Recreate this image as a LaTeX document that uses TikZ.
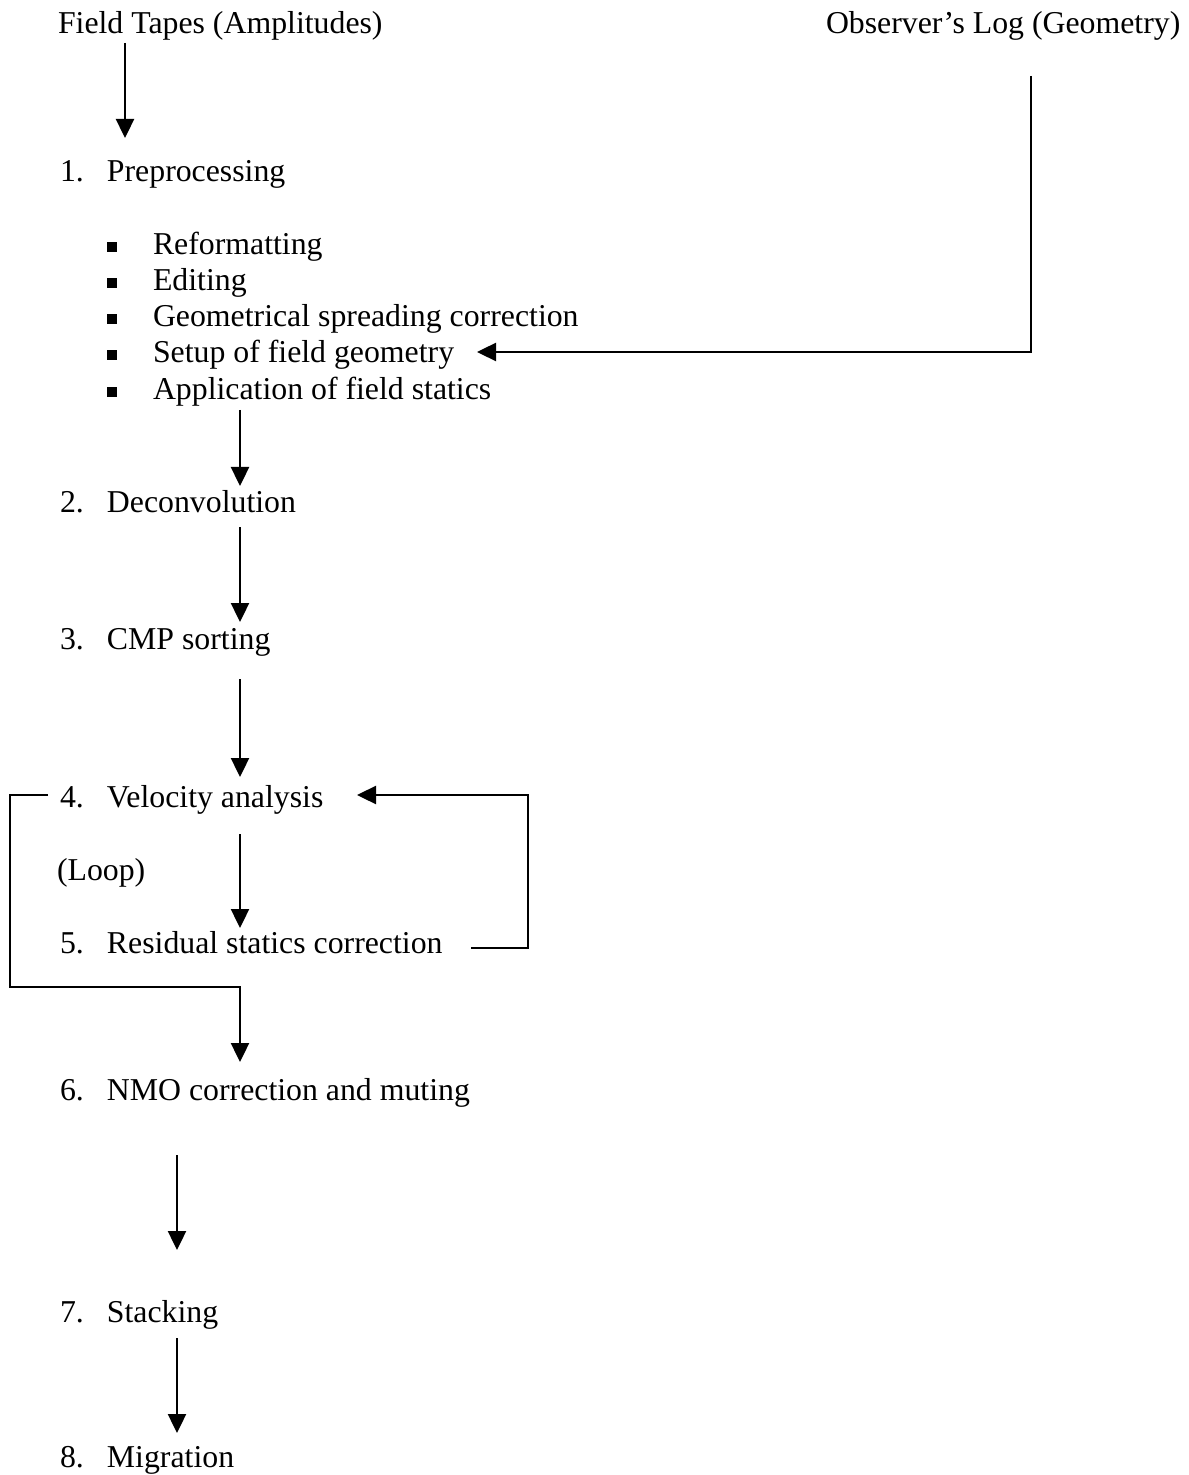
\documentclass[tikz,border=0pt]{standalone}
\usepackage{fontspec}
\setmainfont{Liberation Serif}
\usetikzlibrary{arrows.meta}
\begin{document}
\begin{tikzpicture}[x=0.5pt,y=-0.5pt,
  txt/.style={anchor=base west,inner sep=0pt,outer sep=0pt,font=\fontsize{15.9pt}{19pt}\selectfont},
  sqbullet/.style={fill=black,inner sep=0pt,minimum size=4.8pt,shape=rectangle},
  arr/.style={line width=1.2pt,-{Triangle[length=9.5pt,width=9pt]}}]
\useasboundingbox (0,0) rectangle (1188,1475);
\newcommand{\numlab}[2]{\makebox[23.5pt][l]{#1}#2}
% titles
\node[txt] (ft) at (58,34) {Field Tapes (Amplitudes)};
\node[txt] (ol) at (826,34) {Observer’s Log (Geometry)};
% steps
\node[txt] (s1) at (60,182) {\numlab{1.}{Preprocessing}};
\node[sqbullet] (b1) at (112,247) {};
\node[sqbullet] (b2) at (112,283) {};
\node[sqbullet] (b3) at (112,319) {};
\node[sqbullet] (b4) at (112,355) {};
\node[sqbullet] (b5) at (112,392) {};
\node[txt] (t1) at (153,255) {Reformatting};
\node[txt] (t2) at (153,291) {Editing};
\node[txt] (t3) at (153,327) {Geometrical spreading correction};
\node[txt] (t4) at (153,363) {Setup of field geometry};
\node[txt] (t5) at (153,400) {Application of field statics};
\node[txt] (s2) at (60,512) {\numlab{2.}{Deconvolution}};
\node[txt] (s3) at (60,649) {\numlab{3.}{CMP sorting}};
\node[txt] (s4) at (60,807) {\numlab{4.}{Velocity analysis}};
\node[txt] (lp) at (57,880) {(Loop)};
\node[txt] (s5) at (60,953) {\numlab{5.}{Residual statics correction}};
\node[txt] (s6) at (60,1100) {\numlab{6.}{NMO correction and muting}};
\node[txt] (s7) at (60,1322) {\numlab{7.}{Stacking}};
\node[txt] (s8) at (60,1467) {\numlab{8.}{Migration}};
% connector points
\coordinate (a0s) at (125,43);   \coordinate (a0e) at (125,138);
\coordinate (ols) at (1031,76);  \coordinate (olc) at (1031,352); \coordinate (ole) at (477,352);
\coordinate (a1s) at (240,410);  \coordinate (a1e) at (240,486);
\coordinate (a2s) at (240,527);  \coordinate (a2e) at (240,622);
\coordinate (a3s) at (240,679);  \coordinate (a3e) at (240,777);
\coordinate (a4s) at (240,834);  \coordinate (a4e) at (240,928);
\coordinate (lls) at (48,795);   \coordinate (llc1) at (10,795); \coordinate (llc2) at (10,987);
\coordinate (llc3) at (240,987); \coordinate (lle) at (240,1062);
\coordinate (rls) at (471,948);  \coordinate (rlc1) at (528,948); \coordinate (rlc2) at (528,795);
\coordinate (rle) at (357,795);
\coordinate (a6s) at (177,1155); \coordinate (a6e) at (177,1250);
\coordinate (a7s) at (177,1338); \coordinate (a7e) at (177,1433);
% connectors
\draw[arr] (a0s) -- (a0e);
\draw[arr] (ols) -- (olc) -- (ole);
\draw[arr] (a1s) -- (a1e);
\draw[arr] (a2s) -- (a2e);
\draw[arr] (a3s) -- (a3e);
\draw[arr] (a4s) -- (a4e);
\draw[arr] (lls) -- (llc1) -- (llc2) -- (llc3) -- (lle);
\draw[arr] (rls) -- (rlc1) -- (rlc2) -- (rle);
\draw[arr] (a6s) -- (a6e);
\draw[arr] (a7s) -- (a7e);
\end{tikzpicture}
\end{document}
